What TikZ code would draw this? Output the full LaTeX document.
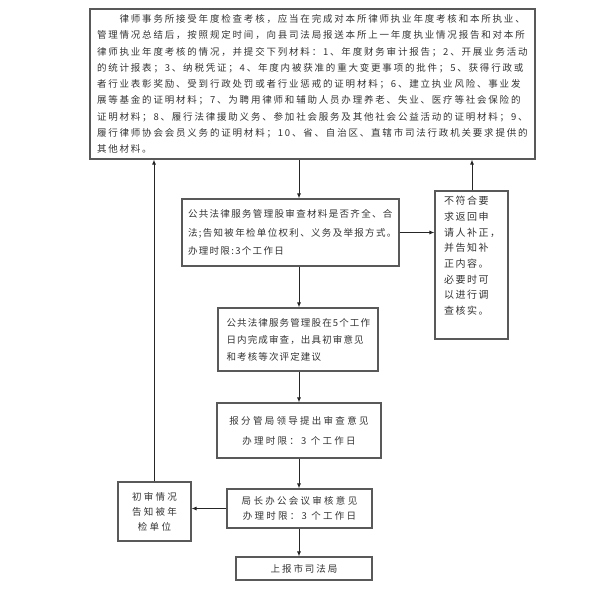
\documentclass[tikz,border=0pt]{standalone}
\usepackage{fontspec}
\setmainfont{Noto Sans CJK SC}
\usetikzlibrary{arrows.meta,calc}
\newcommand{\lsfont}[3]{\fontsize{#1}{#2}\selectfont\addfontfeature{LetterSpace=#3}}
\begin{document}
\begin{tikzpicture}[x=1pt,y=1pt,
  box/.style={draw=black!65, line width=1.1pt, inner sep=0pt, align=center, text=black!80},
  arr/.style={draw=black!85, line width=1pt, -{Latex[length=5pt,width=4pt]}}]
\useasboundingbox (0,0) rectangle (600,-589);
\coordinate (sx) at (299,0);
\coordinate (lx) at (154,0);
\coordinate (rx) at (472,0);

\node[box, minimum width=445, minimum height=150, text width=431, align=left,
      font=\lsfont{9.5}{16.25}{19}] (top) at (312.5,-84)
{　　律师事务所接受年度检查考核，应当在完成对本所律师执业年度考核和本所执业、\\
管理情况总结后，按照规定时间，向县司法局报送本所上一年度执业情况报告和对本所\\
律师执业年度考核的情况，并提交下列材料：1、年度财务审计报告；2、开展业务活动\\
的统计报表；3、纳税凭证；4、年度内被获准的重大变更事项的批件；5、获得行政或\\
者行业表彰奖励、受到行政处罚或者行业惩戒的证明材料；6、建立执业风险、事业发\\
展等基金的证明材料；7、为聘用律师和辅助人员办理养老、失业、医疗等社会保险的\\
证明材料；8、履行法律援助义务、参加社会服务及其他社会公益活动的证明材料；9、\\
履行律师协会会员义务的证明材料；10、省、自治区、直辖市司法行政机关要求提供的\\
其他材料。};

\node[box, minimum width=217, minimum height=67, text width=205, align=left,
      font=\lsfont{9.5}{18.5}{14}] (b2) at (290.5,-232.5)
{公共法律服务管理股审查材料是否齐全、合\\
法;告知被年检单位权利、义务及举报方式。\\
办理时限:3个工作日};

\node[box, minimum width=73, minimum height=148] (rb) at (471.5,-265) {};
\node[anchor=north west, inner sep=0pt, align=left, text=black!80,
      font=\lsfont{10}{15.7}{15}] (rbt) at (444,-196)
{不符合要\\求返回申\\请人补正，\\并告知补\\正内容。\\必要时可\\以进行调\\查核实。};

\node[box, minimum width=160, minimum height=63, text width=143, align=left,
      font=\lsfont{9.5}{17}{12}] (b3) at (298,-339.5)
{公共法律服务管理股在5个工作\\
日内完成审查，出具初审意见\\
和考核等次评定建议};

\node[box, minimum width=164, minimum height=55,
      font=\lsfont{9.5}{20}{24}] (b4) at (299,-430.5)
{报分管局领导提出审查意见\\办理时限：3 个工作日};

\node[box, minimum width=145, minimum height=39,
      font=\lsfont{9.5}{15}{24}] (b5) at (299.5,-508.5)
{局长办公会议审核意见\\办理时限：3 个工作日};

\node[box, minimum width=136, minimum height=23,
      font=\lsfont{9.5}{12}{21}] (b6) at (304,-568.5)
{上报市司法局};

\node[box, minimum width=73, minimum height=59,
      font=\lsfont{9.5}{15}{24}] (lb) at (154.5,-511.5)
{初审情况\\告知被年\\检单位};

\draw[arr] (top.south -| sx) -- (b2.north -| sx);
\draw[arr] (b2.south -| sx) -- (b3.north -| sx);
\draw[arr] (b3.south -| sx) -- (b4.north -| sx);
\draw[arr] (b4.south -| sx) -- (b5.north -| sx);
\draw[arr] (b5.south -| sx) -- (b6.north -| sx);
\draw[arr] (b2.east) -- (rb.west |- b2.east);
\draw[arr] (rb.north -| rx) -- (top.south -| rx);
\draw[arr] (b5.west) -- (lb.east |- b5.west);
\draw[arr] (lb.north -| lx) -- (top.south -| lx);
\end{tikzpicture}
\end{document}
